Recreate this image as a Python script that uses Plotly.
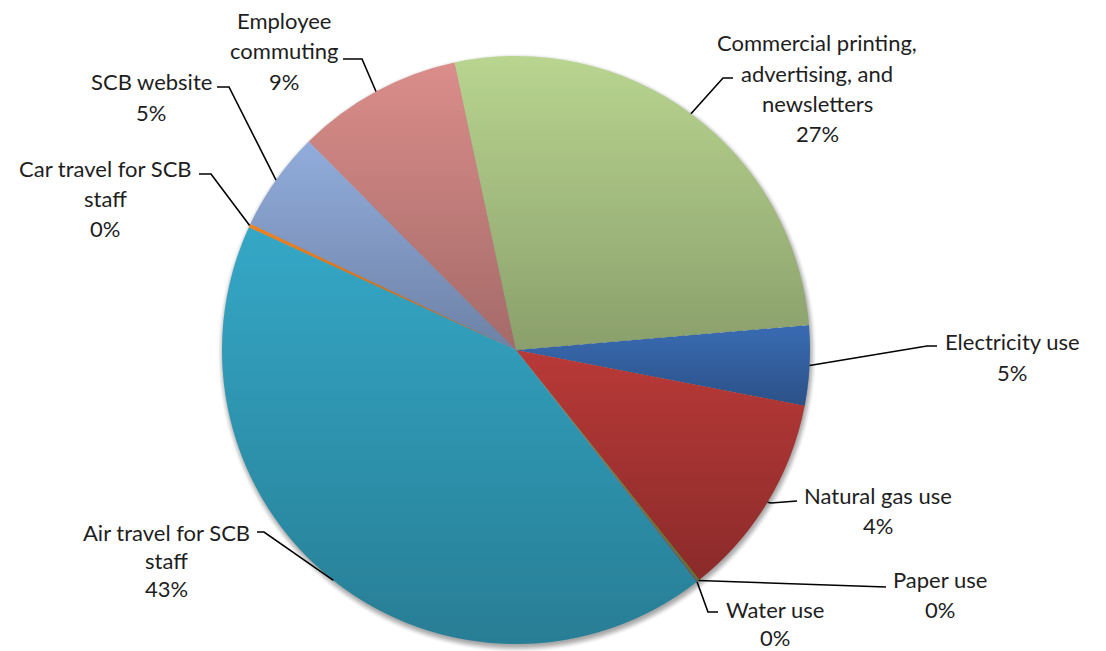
import base64
import struct
import zlib

import numpy as np
import plotly.graph_objects as go

# ---------------------------------------------------------------- data
categories = [
    "Electricity use",
    "Natural gas use",
    "Paper use",
    "Water use",
    "Air travel for SCB staff",
    "Car travel for SCB staff",
    "SCB website",
    "Employee commuting",
    "Commercial printing, advertising, and newsletters",
]
shares = [4.4, 11.25, 0.13, 0.06, 42.4, 0.2, 5.5, 9.1, 27.0]
pct_labels = ["5%", "4%", "0%", "0%", "43%", "0%", "5%", "9%", "27%"]
label_lines = [
    ["Electricity use"],
    ["Natural gas use"],
    ["Paper use"],
    ["Water use"],
    ["Air travel for SCB", "staff"],
    ["Car travel for SCB", "staff"],
    ["SCB website"],
    ["Employee", "commuting"],
    ["Commercial printing,", "advertising, and", "newsletters"],
]
slice_colors = [
    "#3A6CB4",  # electricity
    "#B93A38",  # natural gas
    "#7B9A3A",  # paper
    "#7F63A2",  # water
    "#35A8C7",  # air travel
    "#F2821F",  # car travel
    "#92ADDD",  # website
    "#DB8E8B",  # commuting
    "#B9D590",  # printing
]

# ---------------------------------------------------------------- geometry / style
W, H = 1106, 651
CX, CY, R = 516.0, 350.0, 294.0
ROTATION = 85.1          # first slice starts here, clockwise from 12 o'clock
FONT = "Lato"
FONT_SIZE = 22
LINE_GAP = 30
TEXT_COLOR = "#1E1E1E"

# label block: (centre x of text, y of first line), leader line points from text towards pie
label_layout = [
    dict(xy=(1012, 342), leader=[(937, 346), (927, 346)], gap=30),
    dict(xy=(878, 495), leader=[(797, 501), (771, 503)], gap=30),
    dict(xy=(940, 579), leader=[(886, 587)], gap=30),
    dict(xy=(775, 609), leader=[(718, 612), (708, 612)], gap=28),
    dict(xy=(166, 532), leader=[(257, 532), (264, 532)], gap=28),
    dict(xy=(105, 168), leader=[(199, 174), (211, 174)], gap=30),
    dict(xy=(151, 81), leader=[(217, 87), (229, 87)], gap=31),
    dict(xy=(284, 21), leader=[(343, 59), (362, 59)], gap=30),
    dict(xy=(817, 43), leader=[(733, 78), (723, 78)], gap=30),
]


def px(x):
    return x / W


def py(y):
    return 1 - y / H


total = float(sum(shares))
cum_deg = np.concatenate([[0.0], np.cumsum(shares)]) / total * 360.0


def slice_angles(i):
    return ROTATION + cum_deg[i], ROTATION + cum_deg[i + 1]


def edge_point(angle_deg):
    a = np.radians(angle_deg)
    return CX + R * np.sin(a), CY - R * np.cos(a)


def png_uri(rgba):
    h, w, _ = rgba.shape
    raw = b"".join(b"\x00" + rgba[i].tobytes() for i in range(h))

    def chunk(tag, data):
        body = tag + data
        return struct.pack(">I", len(data)) + body + struct.pack(">I", zlib.crc32(body) & 0xFFFFFFFF)

    png = (b"\x89PNG\r\n\x1a\n"
           + chunk(b"IHDR", struct.pack(">IIBBBBB", w, h, 8, 6, 0, 0, 0))
           + chunk(b"IDAT", zlib.compress(raw, 9))
           + chunk(b"IEND", b""))
    return "data:image/png;base64," + base64.b64encode(png).decode()


# ---------------------------------------------------------------- shading images
PAD = 14
N = int(2 * (R + PAD))
X0, Y0 = CX - R - PAD, CY - R - PAD
gx = X0 + np.arange(N) + 0.5
gy = Y0 + np.arange(N) + 0.5
XX, YY = np.meshgrid(gx, gy)
DX, DY = XX - CX, YY - CY
DIST = np.hypot(DX, DY)

# per-slice vertical gradient (slice top keeps its colour, bottom is darker)
ymin = np.zeros(len(shares))
ymax = np.zeros(len(shares))
for i in range(len(shares)):
    a0, a1 = slice_angles(i)
    ys = [CY, edge_point(a0)[1], edge_point(a1)[1]]
    span = a1 - a0
    if ((0 - a0) % 360) <= span:
        ys.append(CY - R)
    if ((180 - a0) % 360) <= span:
        ys.append(CY + R)
    ymin[i], ymax[i] = min(ys), max(ys)

theta = np.degrees(np.arctan2(DX, -DY)) % 360
rel = (theta - ROTATION) % 360
idx = np.clip(np.searchsorted(cum_deg, rel, side="right") - 1, 0, len(shares) - 1)
t = np.clip((YY - ymin[idx]) / np.maximum(ymax[idx] - ymin[idx], 1), 0, 1)
inside = np.clip(R - DIST + 0.5, 0, 1)
shade_alpha = 0.25 * t * inside
shade = np.zeros((N, N, 4), dtype=np.uint8)
shade[..., 3] = (shade_alpha * 255).round().astype(np.uint8)

# soft drop shadow under the pie
SD = np.hypot(XX - (CX + 1.0), YY - (CY + 3.0))
edge = np.clip((SD - (R - 3)) / 9.0, 0, 1)
shadow_alpha = 0.45 * (1 - edge * edge * (3 - 2 * edge))
shadow = np.zeros((N, N, 4), dtype=np.uint8)
shadow[..., 0:3] = 60
shadow[..., 3] = (shadow_alpha * 255).round().astype(np.uint8)

# ---------------------------------------------------------------- figure
fig = go.Figure(
    go.Pie(
        labels=categories,
        values=shares,
        sort=False,
        direction="clockwise",
        rotation=ROTATION,
        marker=dict(colors=slice_colors, line=dict(width=0)),
        textinfo="none",
        hoverinfo="label+percent",
        showlegend=False,
        domain=dict(x=[px(CX - R), px(CX + R)], y=[py(CY + R), py(CY - R)]),
    )
)

img_common = dict(xref="paper", yref="paper", x=px(X0), y=py(Y0),
                   sizex=N / W, sizey=N / H, xanchor="left", yanchor="top",
                   sizing="stretch")
fig.add_layout_image(source=png_uri(shadow), layer="below", **img_common)
fig.add_layout_image(source=png_uri(shade), layer="above", **img_common)

# labels and leader lines
for i, lay in enumerate(label_layout):
    lx, ly = lay["xy"]
    lines = label_lines[i] + [pct_labels[i]]
    for k, line in enumerate(lines):
        fig.add_annotation(
            x=px(lx), y=py(ly + k * lay["gap"]), xref="paper", yref="paper",
            text=line, showarrow=False, xanchor="center", yanchor="middle",
            font=dict(family=FONT, size=FONT_SIZE, color=TEXT_COLOR),
        )
    a0, a1 = slice_angles(i)
    ex, ey = edge_point((a0 + a1) / 2)
    pts = lay["leader"] + [(ex, ey)]
    path = "M " + " L ".join(f"{px(x):.5f},{py(y):.5f}" for x, y in pts)
    fig.add_shape(type="path", path=path, xref="paper", yref="paper",
                  line=dict(color="#000000", width=1.6))

fig.update_layout(
    width=W, height=H,
    margin=dict(l=0, r=0, t=0, b=0),
    paper_bgcolor="white",
    plot_bgcolor="white",
)

fig.write_html("out.html")
